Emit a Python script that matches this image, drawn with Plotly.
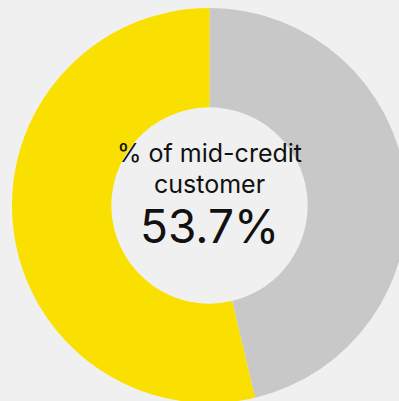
import plotly.graph_objects as go

# Share of mid-credit customers vs. the rest (drawn clockwise from 12 o'clock)
labels = ["Other", "Mid-credit"]
values = [46.3, 53.7]
colors = ["#C8C8C8", "#F9E000"]
title_lines = ["% of mid-credit", "customer"]
headline = f"{values[1]:.1f}%"

fig = go.Figure(
    go.Pie(
        labels=labels,
        values=values,
        hole=0.497,
        sort=False,
        direction="clockwise",
        rotation=0,
        marker=dict(colors=colors, line=dict(width=0)),
        textinfo="none",
        hoverinfo="none",
        showlegend=False,
    )
)

font_family = "Inter, Roboto, sans-serif"
fig.add_annotation(
    text=title_lines[0], x=0.5, y=0.5, xref="paper", yref="paper",
    yshift=53, showarrow=False,
    font=dict(family=font_family, size=25, color="#111111"),
)
fig.add_annotation(
    text=title_lines[1], x=0.5, y=0.5, xref="paper", yref="paper",
    yshift=22, showarrow=False,
    font=dict(family=font_family, size=25, color="#111111"),
)
fig.add_annotation(
    text=headline, x=0.5, y=0.5, xref="paper", yref="paper",
    yshift=-20, showarrow=False,
    font=dict(family=font_family, size=46, color="#111111"),
)

fig.update_layout(
    width=419,
    height=411,
    margin=dict(l=12, r=12, t=8, b=8, pad=0),
    paper_bgcolor="#F0F0F0",
    plot_bgcolor="#F0F0F0",
)

fig.write_html(
    "out.html",
    config={"displayModeBar": False},
    post_script="document.documentElement.style.overflow='hidden';"
                "document.body.style.overflow='hidden';"
                "document.body.style.margin='0';"
                "document.body.style.background='#F0F0F0';",
)
